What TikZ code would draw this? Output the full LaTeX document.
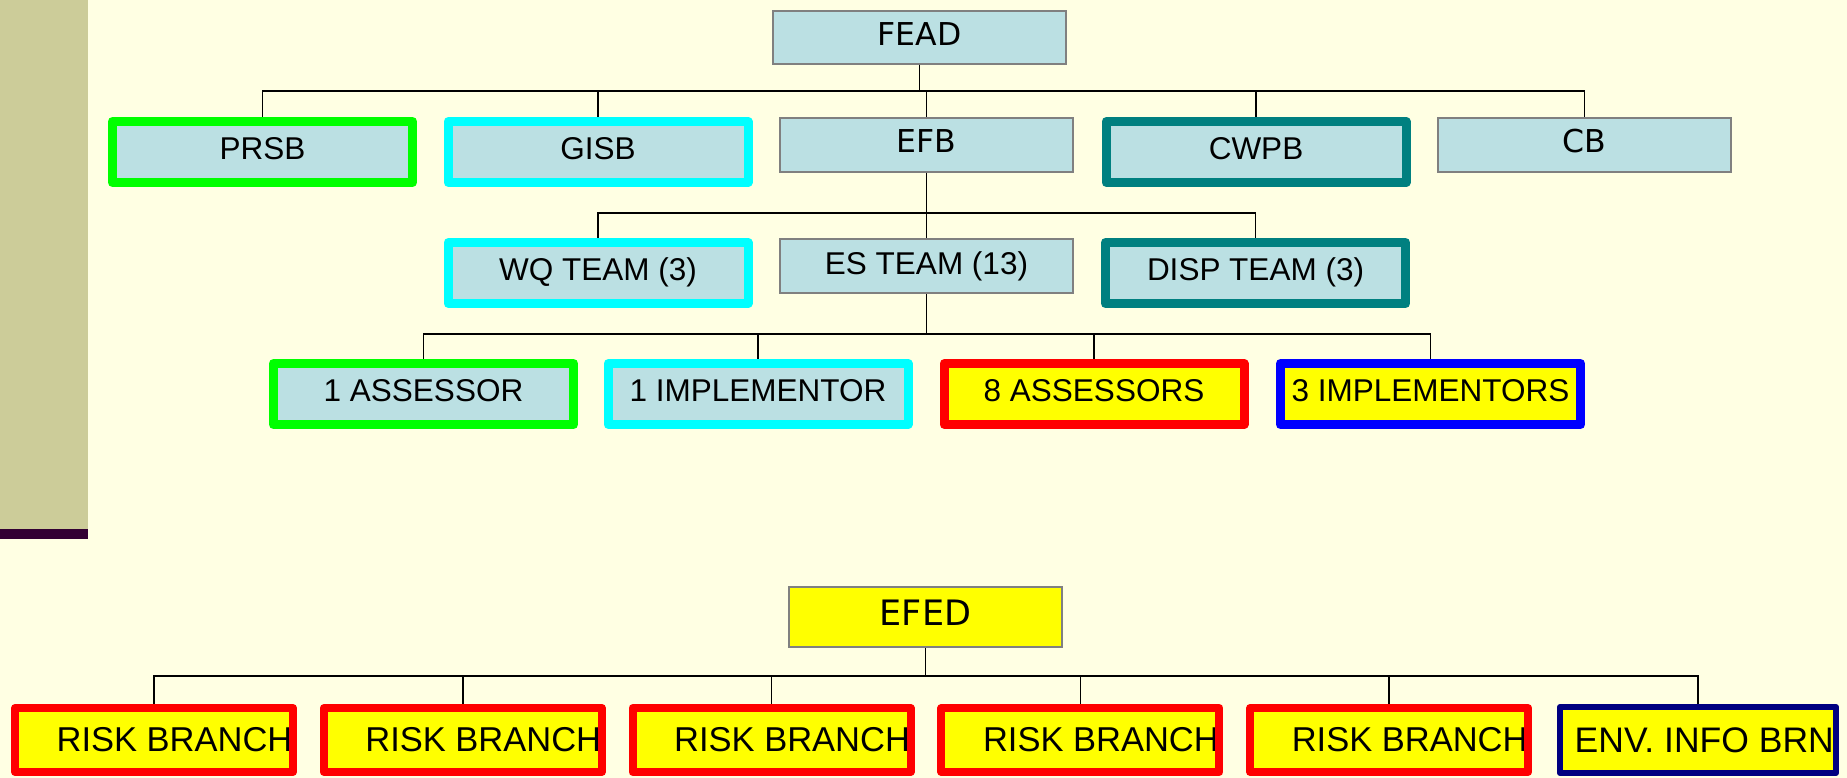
\documentclass[tikz,border=0pt]{standalone}
\usepackage{fontspec}
\setmainfont{Liberation Sans}
\newfontfamily\dejavu{DejaVu Sans}
\definecolor{paper}{HTML}{FFFFE3}
\definecolor{khaki}{HTML}{CCCC99}
\definecolor{plum}{HTML}{330033}
\definecolor{paleblue}{HTML}{BBE0E3}
\definecolor{boxgray}{HTML}{808080}
\definecolor{darkteal}{HTML}{008080}
\definecolor{envnavy}{HTML}{000080}
\definecolor{aqua}{HTML}{00FFFF}
\definecolor{lime}{HTML}{00FF00}
\definecolor{lemon}{HTML}{FFFF00}
\definecolor{signalred}{HTML}{FF0000}
\definecolor{pureblue}{HTML}{0000FF}
\begin{document}
\begin{tikzpicture}[x=1pt, y=1pt,
  connector/.style={line width=1.5pt, draw=black},
  office/.style={draw=boxgray, fill=paleblue, line width=2pt, minimum width=293pt, minimum height=54pt, inner sep=0pt, anchor=north, font=\dejavu\fontsize{31.5}{36}\selectfont, text height=22pt, text depth=6pt},
  group/.style={draw=#1, fill=paleblue, line width=9pt, line join=round, minimum width=300pt, minimum height=61pt, inner sep=0pt, anchor=north, font=\fontsize{31.5}{36}\selectfont, text height=23pt, text depth=8pt},
  staff/.style={group=#1, fill=lemon},
  clipped/.style={draw=none, fill=none, anchor=west, inner sep=0pt, minimum width=0pt, minimum height=0pt, font=\fontsize{34.5}{40}\selectfont},
  branch/.style={draw=signalred, fill=lemon, line width=8pt, line join=round, minimum width=278pt, minimum height=64pt, inner sep=0pt, anchor=north,
    path picture={\node[clipped] at ([xshift=37.6pt]path picture bounding box.west) {#1};}}]
  \useasboundingbox (0,0) rectangle (1847,-778);
  \fill[paper] (0,0) rectangle (1847,-778);
  \fill[khaki] (0,0) rectangle (88,-529);
  \fill[plum] (0,-529) rectangle (88,-539);
  % upper chart
  \node [office, minimum height=53pt] (fead) at (919.5,-10) {FEAD};
  \node [group=lime] (prsb) at (262.5,-117) {PRSB};
  \node [group=aqua] (gisb) at (598,-117) {GISB};
  \node [office] (efb) at (926.5,-117) {EFB};
  \node [group=darkteal] (cwpb) at (1256,-117) {CWPB};
  \node [office] (cb) at (1584.5,-117) {CB};
  \node [group=aqua] (wq) at (598,-238) {WQ TEAM (3)};
  \node [office, font=\fontsize{31.5}{36}\selectfont] (es) at (926.5,-238) {ES TEAM (13)};
  \node [group=darkteal] (disp) at (1255.5,-238) {DISP TEAM (3)};
  \node [group=lime] (assessor) at (423.5,-359) {1 ASSESSOR};
  \node [group=aqua] (implementor) at (758,-359) {1 IMPLEMENTOR};
  \node [staff=signalred] (assessors) at (1094,-359) {8 ASSESSORS};
  \node [staff=pureblue] (implementors) at (1430.5,-359) {3 IMPLEMENTORS};
  \draw [connector] (fead.south) |- ([yshift=26pt]prsb.north) -- (prsb.north);
  \draw [connector] (fead.south) |- ([yshift=26pt]gisb.north) -- (gisb.north);
  \draw [connector] (fead.south) |- ([yshift=26pt]efb.north) -- (efb.north);
  \draw [connector] (fead.south) |- ([yshift=26pt]cwpb.north) -- (cwpb.north);
  \draw [connector] (fead.south) |- ([yshift=26pt]cb.north) -- (cb.north);
  \draw [connector] (efb.south) |- ([yshift=25pt]wq.north) -- (wq.north);
  \draw [connector] (efb.south) -- (es.north);
  \draw [connector] (efb.south) |- ([yshift=25pt]disp.north) -- (disp.north);
  \draw [connector] (es.south) |- ([yshift=25pt]assessor.north) -- (assessor.north);
  \draw [connector] (es.south) |- ([yshift=25pt]implementor.north) -- (implementor.north);
  \draw [connector] (es.south) |- ([yshift=25pt]assessors.north) -- (assessors.north);
  \draw [connector] (es.south) |- ([yshift=25pt]implementors.north) -- (implementors.north);
  % lower chart
  \node [office, fill=lemon, minimum width=273pt, minimum height=60pt, font=\dejavu\fontsize{35}{40}\selectfont, text height=24pt, text depth=8pt] (efed) at (925.5,-586) {EFED};
  \node [branch={RISK BRANCH}] (rb1) at (154,-704) {};
  \node [branch={RISK BRANCH}] (rb2) at (462.8,-704) {};
  \node [branch={RISK BRANCH}] (rb3) at (771.6,-704) {};
  \node [branch={RISK BRANCH}] (rb4) at (1080.4,-704) {};
  \node [branch={RISK BRANCH}] (rb5) at (1389.2,-704) {};
  \node [draw=envnavy, fill=lemon, line width=6pt, line join=round, minimum width=276pt, minimum height=66pt, inner sep=0pt, anchor=north,
    path picture={\node[clipped, font=\fontsize{35.5}{40}\selectfont] at ([xshift=11.7pt]path picture bounding box.west) {ENV. INFO BRNA};}] (env) at (1698,-704) {};
  \draw [connector] (efed.south) |- ([yshift=28pt]rb1.north) -- (rb1.north);
  \draw [connector] (efed.south) |- ([yshift=28pt]rb2.north) -- (rb2.north);
  \draw [connector] (efed.south) |- ([yshift=28pt]rb3.north) -- (rb3.north);
  \draw [connector] (efed.south) |- ([yshift=28pt]rb4.north) -- (rb4.north);
  \draw [connector] (efed.south) |- ([yshift=28pt]rb5.north) -- (rb5.north);
  \draw [connector] (efed.south) |- ([yshift=28pt]env.north) -- (env.north);
\end{tikzpicture}
\end{document}
